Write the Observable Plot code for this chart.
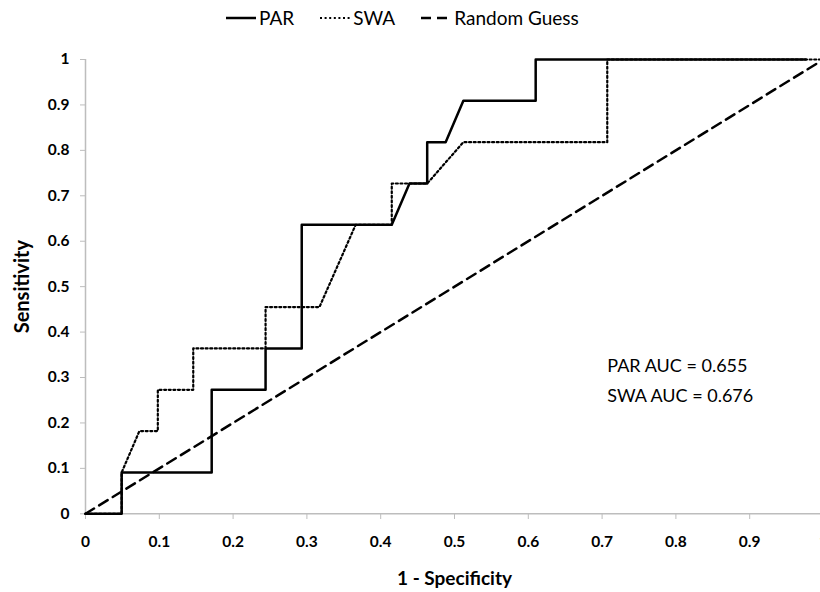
<!DOCTYPE html>
<html>
<head>
<meta charset="utf-8">
<script src="https://cdn.jsdelivr.net/npm/d3@7"></script>
<script src="https://cdn.jsdelivr.net/npm/@observablehq/plot@0.6"></script>
<style>
  html, body { margin: 0; padding: 0; background: white; }
  #wrap { position: relative; width: 820px; height: 592px; overflow: hidden; font-family: Lato, "Open Sans", sans-serif; }
  #legend { position: absolute; left: 226px; top: 6px; display: flex; align-items: center; font-size: 19px; color: #000; }
  #legend .item { display: flex; align-items: center; margin-right: 26px; }
  #legend svg { display: block; margin-right: 3px; }
</style>
</head>
<body>
<div id="wrap">
  <div id="legend"></div>
  <div id="chart"></div>
</div>
<script>
// ROC curve data
const fprPAR = [0, 0.049, 0.049, 0.171, 0.171, 0.244, 0.244, 0.293, 0.293, 0.415, 0.439, 0.463, 0.463, 0.488, 0.512, 0.610, 0.610, 0.976];
const tprPAR = [0, 0, 0.091, 0.091, 0.273, 0.273, 0.364, 0.364, 0.636, 0.636, 0.727, 0.727, 0.818, 0.818, 0.909, 0.909, 1, 1];
const fprSWA = [0, 0.049, 0.049, 0.073, 0.098, 0.098, 0.146, 0.146, 0.244, 0.244, 0.317, 0.366, 0.415, 0.415, 0.463, 0.512, 0.707, 0.707, 1];
const tprSWA = [0, 0, 0.091, 0.182, 0.182, 0.273, 0.273, 0.364, 0.364, 0.455, 0.455, 0.636, 0.636, 0.727, 0.727, 0.818, 0.818, 1, 1];
const fprGuess = [0, 1];
const tprGuess = [0, 1];
const xTicks = [0, 0.1, 0.2, 0.3, 0.4, 0.5, 0.6, 0.7, 0.8, 0.9, 1];
const yTicks = [0, 0.1, 0.2, 0.3, 0.4, 0.5, 0.6, 0.7, 0.8, 0.9, 1];
const seriesNames = ["PAR", "SWA", "Random Guess"];
const seriesDash = [null, "2,2.6", "10,6"];
const seriesWidth = [2.5, 2.2, 2.5];
const aucLabels = ["PAR AUC = 0.655", "SWA AUC = 0.676"];
const aucY = [0.324, 0.258];

const par = fprPAR.map((x, i) => ({x, y: tprPAR[i]}));
const swa = fprSWA.map((x, i) => ({x, y: tprSWA[i]}));
const guess = fprGuess.map((x, i) => ({x, y: tprGuess[i]}));
const aucs = aucLabels.map((t, i) => ({t, x: 0.707, y: aucY[i]}));

const chart = Plot.plot({
  width: 820,
  height: 592,
  marginLeft: 85,
  marginRight: 0,
  marginTop: 59,
  marginBottom: 79,
  style: {fontFamily: "Lato, 'Open Sans', sans-serif", background: "white", color: "black"},
  x: {domain: [0, 1], range: [85, 823]},
  y: {domain: [0, 1], range: [513.3, 59]},
  marks: [
    Plot.ruleY([0], {stroke: "#bdbdbd", strokeWidth: 1.5}),
    Plot.ruleX([0], {stroke: "#bdbdbd", strokeWidth: 1.5}),
    Plot.axisX(xTicks, {tickSize: 6, tickPadding: 16, stroke: "#bdbdbd", fill: "black", fontSize: 15.5, fontWeight: "bold", tickFormat: d => String(d), label: null}),
    Plot.axisY(yTicks, {tickSize: 5, tickPadding: 11, stroke: "#bdbdbd", fill: "black", fontSize: 15.5, fontWeight: "bold", tickFormat: d => String(d), label: null}),
    Plot.line(guess, {x: "x", y: "y", stroke: "black", strokeWidth: seriesWidth[2], strokeDasharray: seriesDash[2]}),
    Plot.line(swa, {x: "x", y: "y", stroke: "black", strokeWidth: seriesWidth[1], strokeDasharray: seriesDash[1]}),
    Plot.line(par, {x: "x", y: "y", stroke: "black", strokeWidth: seriesWidth[0]}),
    Plot.text(aucs, {x: "x", y: "y", text: "t", textAnchor: "start", fontSize: 18, fill: "black"}),
    Plot.text(["1 - Specificity"], {x: 0.5, y: 0, dy: 65, fontSize: 19, fontWeight: "bold", fill: "black"}),
    Plot.text(["Sensitivity"], {x: 0, y: 0.5, dx: -63, rotate: -90, fontSize: 20, fontWeight: "bold", fill: "black"})
  ]
});
document.getElementById("chart").appendChild(chart);

// legend
const legend = document.getElementById("legend");
seriesNames.forEach((name, i) => {
  const item = document.createElement("div");
  item.className = "item";
  const dash = seriesDash[i] ? ` stroke-dasharray="${seriesDash[i]}"` : "";
  item.innerHTML = `<svg width="30" height="10"><line x1="0" y1="5" x2="30" y2="5" stroke="black" stroke-width="${seriesWidth[i]}"${dash}/></svg><span>${name}</span>`;
  legend.appendChild(item);
});
</script>
</body>
</html>
